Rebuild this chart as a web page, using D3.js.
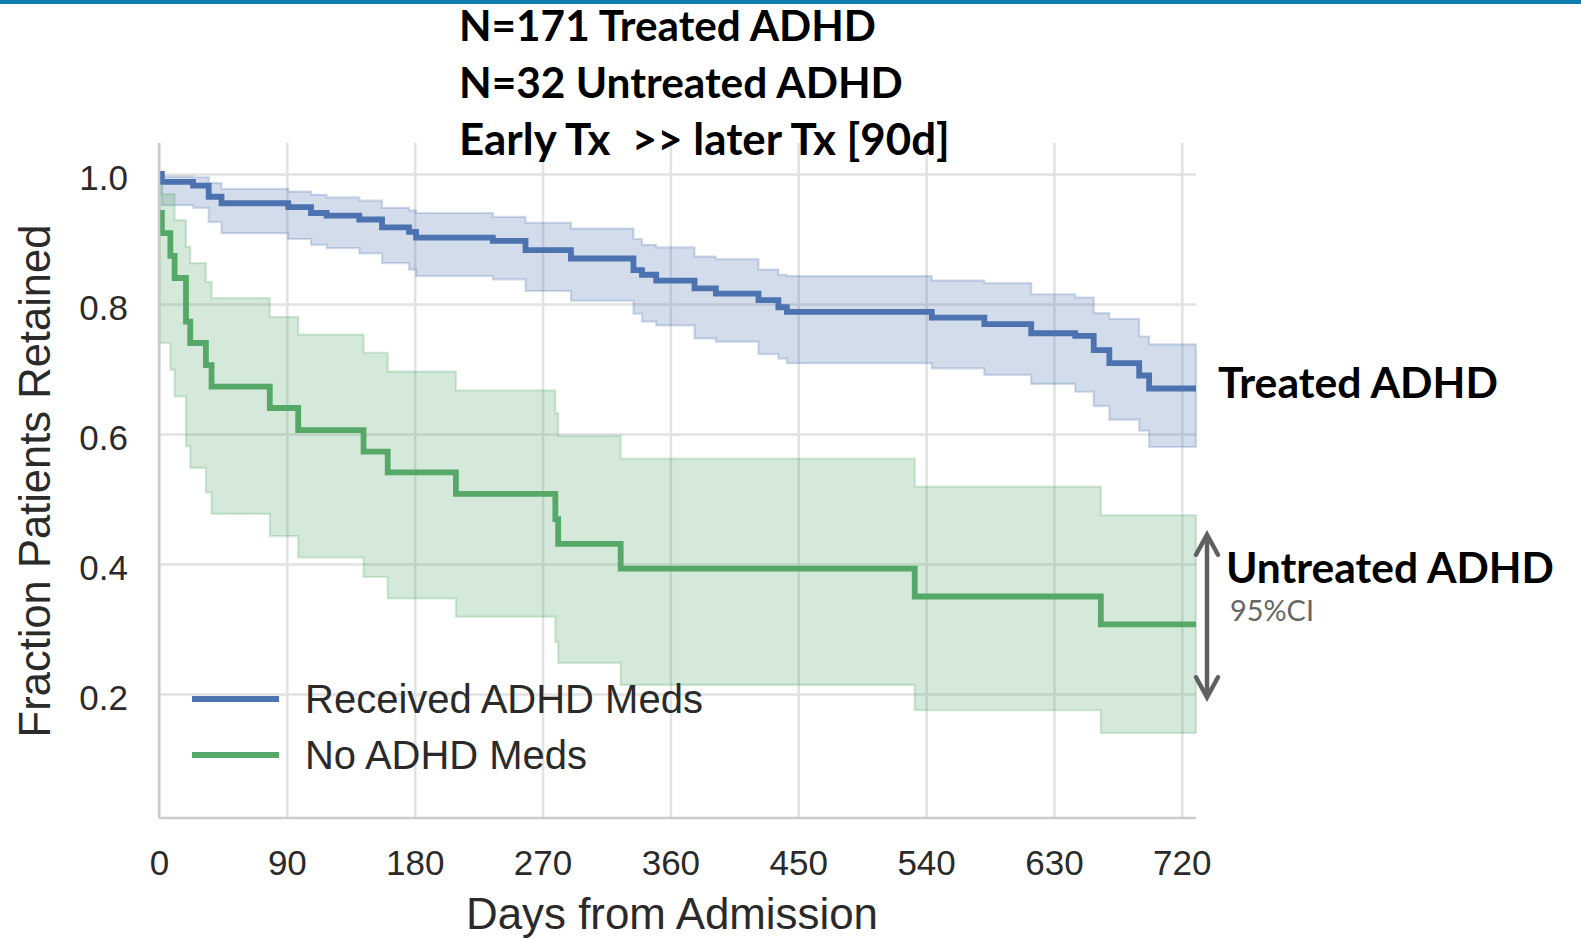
<!DOCTYPE html>
<html lang="en">
<head>
    <meta charset="UTF-8">
    <title>ADHD retention</title>
    <script src="https://cdnjs.cloudflare.com/ajax/libs/d3/7.8.5/d3.min.js"></script>
    <style>
        body {
            margin: 0;
            background: white;
            overflow: hidden;
        }
        svg {
            display: block;
        }
        .grid line {
            stroke: #e2e2e2;
            stroke-width: 2.5px;
        }
        .tick-label text {
            font-family: "Liberation Sans", Arial, sans-serif;
            font-size: 35px;
            fill: #2a2a2a;
        }
    </style>
</head>
<body>
    <svg id="chart" width="1581" height="939"></svg>

    <script>
        // Received ADHD Meds (N=171)
        const treatedDays  = [0, 2, 24, 35, 44, 91, 107, 118, 141, 157, 176, 181, 235, 258, 290, 334, 340, 350, 377, 392, 422, 436, 442, 544, 581, 614, 645, 658, 669, 690, 697];
        const treatedSurv  = [1.0, 0.988, 0.982, 0.965, 0.955, 0.949, 0.940, 0.936, 0.930, 0.918, 0.911, 0.902, 0.897, 0.883, 0.870, 0.852, 0.845, 0.836, 0.824, 0.816, 0.806, 0.795, 0.788, 0.779, 0.769, 0.755, 0.751, 0.729, 0.709, 0.690, 0.670];
        const treatedLower = [1.0, 0.952, 0.948, 0.926, 0.909, 0.900, 0.891, 0.886, 0.878, 0.863, 0.853, 0.843, 0.838, 0.820, 0.805, 0.785, 0.773, 0.767, 0.747, 0.742, 0.723, 0.716, 0.709, 0.701, 0.691, 0.677, 0.665, 0.643, 0.622, 0.605, 0.580];
        const treatedUpper = [1.0, 0.996, 0.995, 0.986, 0.977, 0.973, 0.968, 0.964, 0.959, 0.948, 0.944, 0.940, 0.934, 0.925, 0.916, 0.900, 0.891, 0.887, 0.873, 0.869, 0.853, 0.845, 0.843, 0.836, 0.832, 0.815, 0.810, 0.786, 0.777, 0.750, 0.738];

        // No ADHD Meds (N=32)
        const untreatedDays  = [0, 2, 8, 11, 19, 22, 33, 37, 78, 98, 144, 161, 209, 279, 281, 325, 532, 663];
        const untreatedSurv  = [0.940, 0.909, 0.874, 0.840, 0.773, 0.740, 0.706, 0.673, 0.640, 0.606, 0.573, 0.541, 0.508, 0.469, 0.431, 0.393, 0.350, 0.307];
        const untreatedLower = [0.740, 0.740, 0.699, 0.658, 0.581, 0.548, 0.510, 0.477, 0.443, 0.410, 0.380, 0.347, 0.319, 0.280, 0.248, 0.214, 0.175, 0.140];
        const untreatedUpper = [0.983, 0.969, 0.969, 0.929, 0.888, 0.863, 0.834, 0.809, 0.780, 0.753, 0.725, 0.696, 0.667, 0.632, 0.597, 0.562, 0.519, 0.475];

        const lastDay = 730;
        const xTicks = [0, 90, 180, 270, 360, 450, 540, 630, 720];
        const yTicks = [0.2, 0.4, 0.6, 0.8, 1.0];

        const seriesNames = ["Received ADHD Meds", "No ADHD Meds"];
        const seriesColors = ["#4c72b0", "#55a868"];
        const titleLines = ["N=171 Treated ADHD", "N=32 Untreated ADHD", "Early Tx  >> later Tx [90d]"];

        const margin = { top: 143, right: 385, bottom: 121, left: 159 };
        const W = 1581, H = 939;

        const svg = d3.select("#chart");

        const x = d3.scaleLinear().domain([0, lastDay]).range([margin.left, W - margin.right]);
        const y = d3.scaleLinear().domain([0.0092, 1.0477]).range([H - margin.bottom, margin.top]);

        // make font size fit a measured width
        function fitWidth(sel, w) {
            const len = sel.node().getComputedTextLength();
            const fs = parseFloat(sel.attr("font-size"));
            sel.attr("font-size", fs * w / len);
        }

        // top border
        svg.append("rect")
            .attr("x", 0).attr("y", 0)
            .attr("width", W).attr("height", 4)
            .attr("fill", "#0d7dab");

        // gridlines
        svg.append("g")
            .attr("class", "grid")
            .attr("transform", `translate(0,${H - margin.bottom})`)
            .call(d3.axisBottom(x).tickValues(xTicks).tickSize(-(H - margin.top - margin.bottom)).tickFormat(""))
            .call(g => g.select(".domain").remove());

        svg.append("g")
            .attr("class", "grid")
            .attr("transform", `translate(${margin.left},0)`)
            .call(d3.axisLeft(y).tickValues(yTicks).tickSize(-(W - margin.left - margin.right)).tickFormat(""))
            .call(g => g.select(".domain").remove());

        // step series
        function toRows(days, surv, lo, hi) {
            const rows = days.map((d, i) => ({ day: d, s: surv[i], lo: lo[i], hi: hi[i] }));
            const last = rows[rows.length - 1];
            rows.push({ day: lastDay, s: last.s, lo: last.lo, hi: last.hi });
            return rows;
        }

        const groups = [
            toRows(treatedDays, treatedSurv, treatedLower, treatedUpper),
            toRows(untreatedDays, untreatedSurv, untreatedLower, untreatedUpper)
        ];

        const band = d3.area()
            .curve(d3.curveStepAfter)
            .x(d => x(d.day))
            .y0(d => y(d.lo))
            .y1(d => y(d.hi));

        const line = d3.line()
            .curve(d3.curveStepAfter)
            .x(d => x(d.day))
            .y(d => y(d.s));

        groups.forEach((rows, i) => {
            svg.append("path")
                .datum(rows)
                .attr("d", band)
                .attr("fill", seriesColors[i])
                .attr("fill-opacity", 0.25)
                .attr("stroke", seriesColors[i])
                .attr("stroke-opacity", 0.25)
                .attr("stroke-width", 2.2);

            svg.append("path")
                .datum(rows)
                .attr("d", line)
                .attr("fill", "none")
                .attr("stroke", seriesColors[i])
                .attr("stroke-width", 5.8);
        });

        // spines (left and bottom only)
        svg.append("line")
            .attr("x1", margin.left).attr("x2", margin.left)
            .attr("y1", margin.top).attr("y2", H - margin.bottom)
            .attr("stroke", "#cccccc").attr("stroke-width", 2.5);
        svg.append("line")
            .attr("x1", margin.left).attr("x2", W - margin.right)
            .attr("y1", H - margin.bottom).attr("y2", H - margin.bottom)
            .attr("stroke", "#cccccc").attr("stroke-width", 2.5);

        // tick labels
        svg.append("g")
            .attr("class", "tick-label")
            .attr("transform", `translate(0,${H - margin.bottom})`)
            .call(d3.axisBottom(x).tickValues(xTicks).tickSize(0).tickPadding(32).tickFormat(d3.format("d")))
            .call(g => g.select(".domain").remove());

        svg.append("g")
            .attr("class", "tick-label")
            .attr("transform", `translate(${margin.left},0)`)
            .call(d3.axisLeft(y).tickValues(yTicks).tickSize(0).tickPadding(31).tickFormat(d3.format(".1f")))
            .call(g => g.select(".domain").remove())
            .call(g => g.selectAll("text").attr("dy", "0.45em"));

        // axis titles
        const xTitle = svg.append("text")
            .attr("x", 672).attr("y", 929)
            .attr("text-anchor", "middle")
            .attr("font-family", "Liberation Sans, Arial, sans-serif")
            .attr("font-size", 43)
            .attr("fill", "#2a2a2a")
            .text("Days from Admission");
        fitWidth(xTitle, 412);

        const yTitle = svg.append("text")
            .attr("transform", "translate(50,481) rotate(-90)")
            .attr("text-anchor", "middle")
            .attr("font-family", "Liberation Sans, Arial, sans-serif")
            .attr("font-size", 43)
            .attr("fill", "#2a2a2a")
            .text("Fraction Patients Retained");
        fitWidth(yTitle, 513);

        // legend
        const legend = svg.append("g").attr("transform", "translate(192,699)");
        seriesNames.forEach((name, i) => {
            const row = legend.append("g").attr("transform", `translate(0,${i * 56})`);
            row.append("line")
                .attr("x1", 0).attr("x2", 87)
                .attr("stroke", seriesColors[i])
                .attr("stroke-width", 5.8);
            const t = row.append("text")
                .attr("x", 113).attr("y", 14)
                .attr("font-family", "Liberation Sans, Arial, sans-serif")
                .attr("font-size", 39)
                .attr("fill", "#2a2a2a")
                .text(name);
            fitWidth(t, i === 0 ? 398 : 282);
        });

        // header lines
        const titleWidths = [417, 444, 491];
        titleLines.forEach((txt, i) => {
            const t = svg.append("text")
                .attr("x", 459).attr("y", 41 + i * 57)
                .attr("font-family", "Lato, 'Open Sans', sans-serif")
                .attr("font-weight", 700)
                .attr("font-size", 44)
                .attr("fill", "#000")
                .attr("xml:space", "preserve")
                .style("white-space", "pre")
                .text(txt);
            fitWidth(t, titleWidths[i]);
        });

        // right-hand annotations
        const tLab = svg.append("text")
            .attr("x", 1218).attr("y", 398)
            .attr("font-family", "Lato, 'Open Sans', sans-serif")
            .attr("font-weight", 700)
            .attr("font-size", 44)
            .attr("fill", "#000")
            .text("Treated ADHD");
        fitWidth(tLab, 280);

        const uLab = svg.append("text")
            .attr("x", 1226).attr("y", 583)
            .attr("font-family", "Lato, 'Open Sans', sans-serif")
            .attr("font-weight", 700)
            .attr("font-size", 44)
            .attr("fill", "#000")
            .text("Untreated ADHD");
        fitWidth(uLab, 328);

        const ciLab = svg.append("text")
            .attr("x", 1230).attr("y", 621)
            .attr("font-family", "Lato, 'Open Sans', sans-serif")
            .attr("font-size", 30)
            .attr("fill", "#666666")
            .text("95%CI");
        fitWidth(ciLab, 84);

        // double arrow over the untreated CI
        const ax = 1207, aTop = y(0.445), aBot = y(0.195);
        const arrow = svg.append("g")
            .attr("stroke", "#606060")
            .attr("stroke-width", 4.5)
            .attr("fill", "none")
            .attr("stroke-linecap", "round");
        arrow.append("line").attr("x1", ax).attr("x2", ax).attr("y1", aTop + 2).attr("y2", aBot - 2);
        arrow.append("path").attr("d", `M${ax - 11},${aTop + 20} L${ax},${aTop} L${ax + 11},${aTop + 20}`);
        arrow.append("path").attr("d", `M${ax - 11},${aBot - 20} L${ax},${aBot} L${ax + 11},${aBot - 20}`);
    </script>
</body>
</html>
